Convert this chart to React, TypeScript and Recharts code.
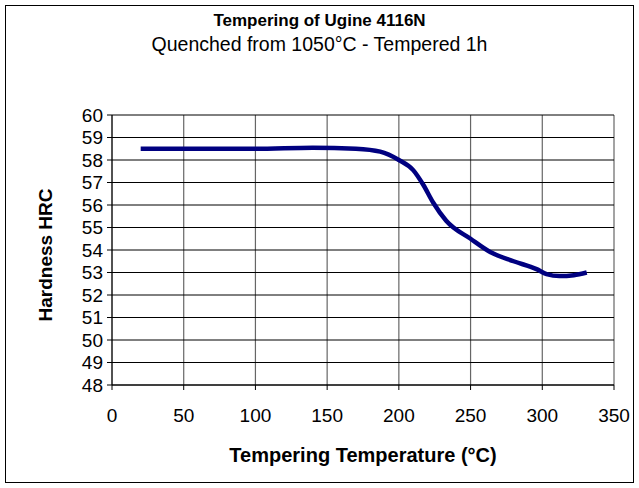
import React from "react";
import { LineChart, Line, XAxis, YAxis, CartesianGrid } from "recharts";

const temperatures = [20, 100, 140, 170, 187, 200, 210, 217, 224, 233, 250, 264, 280, 296, 303, 312, 322, 331];
const hardness = [58.5, 58.5, 58.55, 58.5, 58.37, 58.0, 57.55, 56.9, 56.1, 55.3, 54.5, 53.9, 53.5, 53.15, 52.93, 52.84, 52.88, 53.0];
const xTicks = [0, 50, 100, 150, 200, 250, 300, 350];
const yTicks = [48, 49, 50, 51, 52, 53, 54, 55, 56, 57, 58, 59, 60];

const data = temperatures.map((t, i) => ({ t, h: hardness[i] }));

const FONT = "'Liberation Sans', Arial, sans-serif";

export default function App() {
  return (
    <div style={{ position: "absolute", left: 0, top: 0, width: 639, height: 488, background: "#fff", fontFamily: FONT }}>
      <div style={{ position: "absolute", left: 5, top: 5, width: 627, height: 476, border: "1px solid #000" }} />
      <div style={{ position: "absolute", left: 0, top: 11, width: 639, textAlign: "center", fontWeight: "bold", fontSize: 17, color: "#000", lineHeight: "20px", whiteSpace: "nowrap" }}>
        Tempering of Ugine 4116N
      </div>
      <div style={{ position: "absolute", left: 0, top: 33, width: 639, textAlign: "center", fontSize: 19.5, color: "#000", lineHeight: "22px", whiteSpace: "nowrap" }}>
        Quenched from 1050°C - Tempered 1h
      </div>
      <div style={{ position: "absolute", left: 0, top: 0 }}>
        <LineChart width={639} height={488} data={data} margin={{ top: 115, right: 25, bottom: 73, left: 62 }}>
          <CartesianGrid horizontal={false} stroke="#666" strokeWidth={1.2} />
          <CartesianGrid vertical={false} stroke="#000" />
          <XAxis
            type="number"
            dataKey="t"
            domain={[0, 350]}
            ticks={xTicks}
            interval={0}
            height={30}
            tickSize={5}
            tickMargin={19}
            stroke="#000"
            tick={{ fill: "#000", fontSize: 19, fontFamily: FONT }}
            label={{ value: "Tempering Temperature (°C)", position: "insideBottom", offset: -47, fill: "#000", fontSize: 20, fontWeight: "bold", fontFamily: FONT }}
          />
          <YAxis
            type="number"
            domain={[48, 60]}
            ticks={yTicks}
            interval={0}
            width={50}
            tickSize={5}
            tickMargin={4}
            stroke="#000"
            tick={{ fill: "#000", fontSize: 19, fontFamily: FONT }}
            label={{ value: "Hardness HRC", angle: -90, position: "center", dx: -42, dy: 5, fill: "#000", fontSize: 19, fontWeight: "bold", fontFamily: FONT }}
          />
          <Line type="monotone" dataKey="h" stroke="#000080" strokeWidth={4.5} dot={false} isAnimationActive={false} />
        </LineChart>
      </div>
    </div>
  );
}
